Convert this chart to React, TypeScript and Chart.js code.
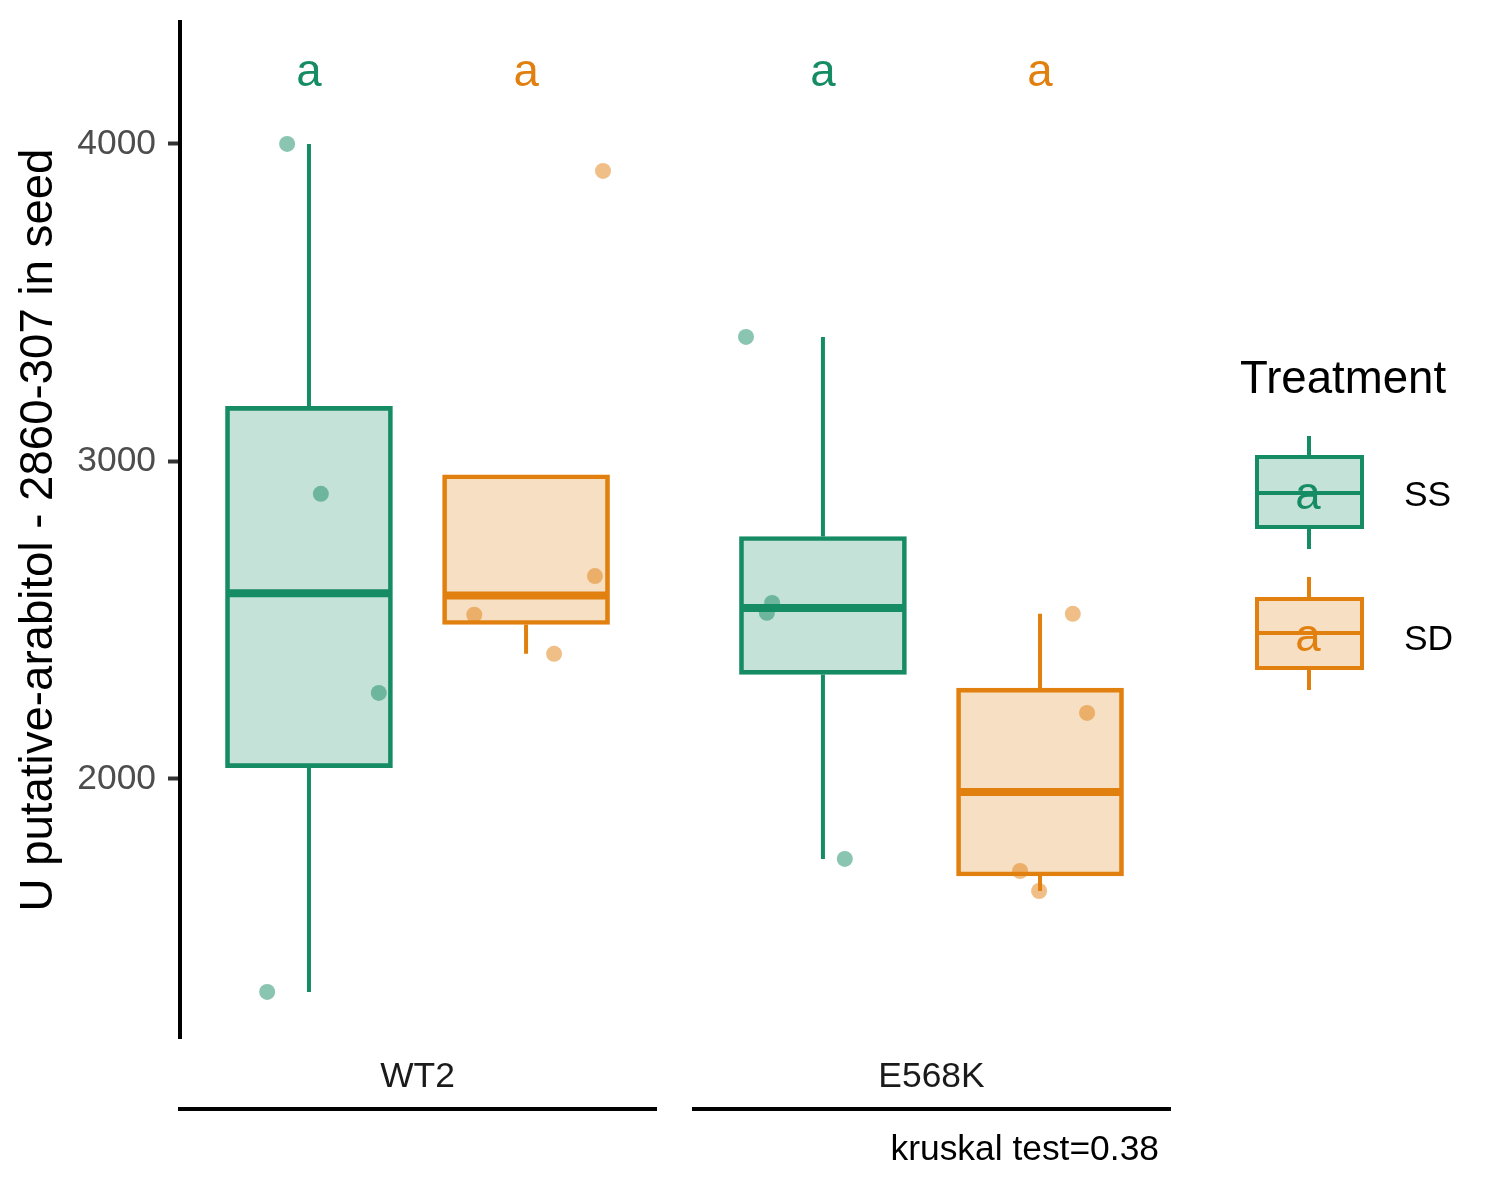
import React, { useEffect, useRef } from 'react';
import { Chart, registerables } from 'chart.js';
Chart.register(...registerables);

// ---------- data ----------
const GENOTYPES = ['WT2', 'E568K'];
const TREATMENTS = ['SS', 'SD'];
const WT2_SS = [4000, 2898, 2271, 1329];
const WT2_SD = [3915, 2639, 2517, 2394];
const E568K_SS = [3392, 2554, 2523, 1748];
const E568K_SD = [2520, 2208, 1710, 1647];
// horizontal jitter of each point (fraction of panel width)
const WT2_SS_JITTER = [-0.046, 0.025, 0.147, -0.088];
const WT2_SD_JITTER = [0.162, 0.145, -0.109, 0.059];
const E568K_SS_JITTER = [-0.162, -0.107, -0.118, 0.046];
const E568K_SD_JITTER = [0.069, 0.099, -0.042, -0.002];
const WT2_LETTERS = ['a', 'a'];
const E568K_LETTERS = ['a', 'a'];
const LETTER_Y = 4183;
const Y_TICKS = [2000, 3000, 4000];
const Y_MIN = 1184;
const Y_MAX = 4384;
const Y_TITLE = 'U putative-arabitol - 2860-307 in seed';
const LEGEND_TITLE = 'Treatment';
const CAPTION = 'kruskal test=0.38';

// ---------- styles / layout ----------
const FONT = '"Liberation Sans", Arial, sans-serif';
const BIG = 45.6;
const SMALL = 35.4;
const COLORS = ['rgb(22,140,100)', 'rgb(225,128,15)'];
const FILLS = ['rgba(22,140,100,0.25)', 'rgba(225,128,15,0.25)'];
const POINT_FILLS = ['rgba(22,140,100,0.5)', 'rgba(225,128,15,0.5)'];
const PANEL_GAP = 0.082;
const DODGE = 0.2285;
const BOX_HALF = 0.1716;
const X_MAX = 2 + PANEL_GAP;

const VALUES = [[WT2_SS, WT2_SD], [E568K_SS, E568K_SD]];
const JITTER = [[WT2_SS_JITTER, WT2_SD_JITTER], [E568K_SS_JITTER, E568K_SD_JITTER]];
const LETTERS = [WT2_LETTERS, E568K_LETTERS];

function quantile(s: number[], p: number) {
  const h = (s.length - 1) * p;
  const lo = Math.floor(h);
  const hi = Math.ceil(h);
  return s[lo] + (h - lo) * (s[hi] - s[lo]);
}
function boxStats(vals: number[]) {
  const s = [...vals].sort((a, b) => a - b);
  const q1 = quantile(s, 0.25);
  const med = quantile(s, 0.5);
  const q3 = quantile(s, 0.75);
  const iqr = q3 - q1;
  const inside = s.filter((v) => v >= q1 - 1.5 * iqr && v <= q3 + 1.5 * iqr);
  return { q1, med, q3, lo: Math.min(q1, ...inside), hi: Math.max(q3, ...inside) };
}
const panelStart = (g: number) => g * (1 + PANEL_GAP);
const boxCenter = (g: number, t: number) => panelStart(g) + 0.5 + (t === 0 ? -DODGE : DODGE);

function buildDatasets() {
  const ds: any[] = [];
  TREATMENTS.forEach((tr, t) => {
    const bars: any[] = [];
    const whiskers: any[] = [];
    const medians: any[] = [];
    const pts: any[] = [];
    GENOTYPES.forEach((_, g) => {
      const c = boxCenter(g, t);
      const st = boxStats(VALUES[g][t]);
      bars.push({ x: c, y: [st.q1, st.q3] });
      whiskers.push({ x: c, y: st.q3 }, { x: c, y: st.hi }, { x: c, y: null },
        { x: c, y: st.q1 }, { x: c, y: st.lo }, { x: c, y: null });
      medians.push({ x: c - BOX_HALF, y: st.med }, { x: c + BOX_HALF, y: st.med }, { x: c, y: null });
      VALUES[g][t].forEach((v, i) => pts.push({ x: c + JITTER[g][t][i], y: v }));
    });
    ds.push({
      type: 'line', label: tr + ' whiskers', data: whiskers, borderColor: COLORS[t], borderWidth: 4,
      pointRadius: 0, pointHoverRadius: 0, fill: false, borderCapStyle: 'butt', order: 3,
    });
    ds.push({
      type: 'bar', label: tr, data: bars, backgroundColor: FILLS[t], borderColor: COLORS[t], borderWidth: 4,
      borderSkipped: false, barThickness: 167, grouped: false, order: 2,
    });
    ds.push({
      type: 'line', label: tr + ' median', data: medians, borderColor: COLORS[t], borderWidth: 8,
      pointRadius: 0, pointHoverRadius: 0, fill: false, borderCapStyle: 'butt', order: 1,
    });
    ds.push({
      type: 'scatter', label: tr + ' points', data: pts, backgroundColor: POINT_FILLS[t], borderWidth: 0,
      pointRadius: 8, pointHoverRadius: 8, order: 0,
    });
  });
  return ds;
}

function drawKey(ctx: CanvasRenderingContext2D, t: number, top: number, bottom: number, med: number,
  wTop: number, wBottom: number) {
  const left = 1257, right = 1362, cx = 1309;
  ctx.save();
  ctx.strokeStyle = COLORS[t];
  ctx.lineWidth = 4;
  ctx.lineCap = 'butt';
  ctx.beginPath();
  ctx.moveTo(cx, wTop); ctx.lineTo(cx, top);
  ctx.moveTo(cx, bottom); ctx.lineTo(cx, wBottom);
  ctx.stroke();
  ctx.fillStyle = '#fff';
  ctx.fillRect(left, top, right - left, bottom - top);
  ctx.fillStyle = FILLS[t];
  ctx.fillRect(left, top, right - left, bottom - top);
  ctx.strokeRect(left, top, right - left, bottom - top);
  ctx.beginPath();
  ctx.moveTo(left, med); ctx.lineTo(right, med);
  ctx.stroke();
  ctx.restore();
}

const overlayPlugin = {
  id: 'overlay',
  afterDraw(chart: any) {
    const ctx: CanvasRenderingContext2D = chart.ctx;
    const x = chart.scales.x;
    const y = chart.scales.y;
    ctx.save();
    // significance letters
    ctx.font = `${BIG}px ${FONT}`;
    ctx.textAlign = 'center';
    ctx.textBaseline = 'alphabetic';
    GENOTYPES.forEach((_, g) => {
      TREATMENTS.forEach((__, t) => {
        ctx.fillStyle = COLORS[t];
        ctx.fillText(LETTERS[g][t], x.getPixelForValue(boxCenter(g, t)), y.getPixelForValue(LETTER_Y));
      });
    });
    // facet strips at bottom
    GENOTYPES.forEach((name, g) => {
      const l = x.getPixelForValue(panelStart(g));
      const r = x.getPixelForValue(panelStart(g) + 1);
      ctx.fillStyle = '#1A1A1A';
      ctx.font = `${SMALL}px ${FONT}`;
      ctx.textAlign = 'center';
      ctx.fillText(name, (l + r) / 2, 1087);
      ctx.strokeStyle = '#000';
      ctx.lineWidth = 4;
      ctx.beginPath();
      ctx.moveTo(l - 2, 1109); ctx.lineTo(r + 2, 1109);
      ctx.stroke();
    });
    // caption
    ctx.fillStyle = '#000';
    ctx.font = `${SMALL}px ${FONT}`;
    ctx.textAlign = 'right';
    ctx.fillText(CAPTION, x.getPixelForValue(X_MAX) - 10, 1160);
    // legend
    ctx.textAlign = 'left';
    ctx.font = `${BIG}px ${FONT}`;
    ctx.fillText(LEGEND_TITLE, 1240, 393);
    drawKey(ctx, 0, 457, 527, 493, 436, 549);
    drawKey(ctx, 1, 599, 668, 633, 577, 690);
    ctx.font = `${BIG}px ${FONT}`;
    ctx.textAlign = 'center';
    ctx.fillStyle = COLORS[0];
    ctx.fillText(WT2_LETTERS[0], 1308, 509);
    ctx.fillStyle = COLORS[1];
    ctx.fillText(WT2_LETTERS[1], 1308, 651);
    ctx.fillStyle = '#000';
    ctx.font = `${SMALL}px ${FONT}`;
    ctx.textAlign = 'left';
    ctx.fillText(TREATMENTS[0], 1404, 506);
    ctx.fillText(TREATMENTS[1], 1404, 650);
    ctx.restore();
  },
};

export default function App() {
  const ref = useRef<HTMLCanvasElement>(null);
  useEffect(() => {
    Chart.defaults.font.family = FONT;
    const chart = new Chart(ref.current as HTMLCanvasElement, {
      type: 'bar',
      data: { datasets: buildDatasets() } as any,
      options: {
        animation: false,
        responsive: false,
        devicePixelRatio: 1,
        layout: { padding: { left: 0, top: 22, right: 331, bottom: 162 } },
        plugins: { legend: { display: false }, tooltip: { enabled: false } },
        scales: {
          x: {
            type: 'linear', display: false, min: 0, max: X_MAX, offset: false,
            grid: { display: false, offset: false },
          },
          y: {
            type: 'linear', min: Y_MIN, max: Y_MAX,
            afterBuildTicks: (s: any) => { s.ticks = Y_TICKS.map((v) => ({ value: v })); },
            afterFit: (s: any) => { s.width = 180; s.paddingTop = 0; s.paddingBottom = 0; },
            ticks: { font: { size: SMALL }, color: '#4D4D4D', padding: 12, callback: (v: any) => String(v) },
            grid: { display: true, drawOnChartArea: false, drawTicks: true, tickLength: 12, tickWidth: 4, tickColor: '#333333' },
            border: { display: true, color: '#000', width: 4 },
            title: { display: true, text: Y_TITLE, color: '#000', font: { size: BIG }, padding: { top: 12, bottom: 0 } },
          },
        },
      } as any,
      plugins: [overlayPlugin],
    });
    return () => chart.destroy();
  }, []);
  return (
    <div style={{ position: 'absolute', left: 0, top: 0, width: 1500, height: 1200, background: '#fff' }}>
      <canvas ref={ref} width={1500} height={1200} style={{ width: 1500, height: 1200, display: 'block' }} />
    </div>
  );
}
